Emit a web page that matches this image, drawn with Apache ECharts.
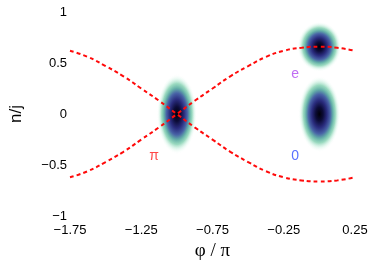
<!DOCTYPE html>
<html>
<head>
<meta charset="utf-8">
<script src="https://cdn.jsdelivr.net/npm/echarts@6/dist/echarts.min.js"></script>
<style>html,body{margin:0;padding:0;background:#fff}#c{width:374px;height:266px}</style>
</head>
<body>
<div id="c"></div>
<script>
// phase values (units of pi)
const phi = [-1.75, -1.625, -1.5, -1.375, -1.25, -1.125, -1.0, -0.875, -0.75, -0.625, -0.5, -0.375, -0.25, -0.125, 0.0, 0.125, 0.25];
// branch starting high on the left
const branchA = [0.62, 0.56, 0.47, 0.37, 0.25, 0.13, 0.0, -0.13, -0.25, -0.37, -0.47, -0.56, -0.62, -0.65, -0.66, -0.65, -0.62];
// branch starting low on the left
const branchB = [-0.62, -0.56, -0.47, -0.37, -0.25, -0.13, 0.0, 0.13, 0.25, 0.37, 0.47, 0.56, 0.62, 0.65, 0.66, 0.65, 0.62];
// density blob centres [phi, n/j]
const blobs = [[-1.0, 0.0], [0.0, 0.66], [0.0, 0.0]];
// annotation labels [phi, n/j, text]
const notes = [[-1.16, -0.41, 'π'], [-0.17, 0.39, 'e'], [-0.17, -0.41, '0']];
const xTicks = [-1.75, -1.25, -0.75, -0.25, 0.25];
const yTicks = [-1, -0.5, 0, 0.5, 1];

// styling (pixel radii of blobs)
const blobRadius = [[20, 40], [22, 25], [21, 38]];
const noteColors = ['#ff1a1a', '#b048f0', '#2f4cff'];

const chart = echarts.init(document.getElementById('c'), null, {renderer: 'canvas'});
const lab = {fontFamily: 'Liberation Sans, Arial, sans-serif', fontSize: 13, color: '#000'};
const grad = {
  type: 'radial', x: 0.5, y: 0.5, r: 0.5,
  colorStops: [
    {offset: 0, color: '#000008'},
    {offset: 0.18, color: '#0c0c38'},
    {offset: 0.36, color: '#2a2c7e'},
    {offset: 0.52, color: '#4862a6'},
    {offset: 0.64, color: '#64aea8'},
    {offset: 0.76, color: 'rgba(120,205,170,0.75)'},
    {offset: 0.88, color: 'rgba(195,238,220,0.4)'},
    {offset: 1, color: 'rgba(255,255,255,0)'}
  ]
};
chart.setOption({
  animation: false,
  grid: {left: 65, right: 19, top: 12, bottom: 46},
  xAxis: {
    type: 'value', min: -1.75, max: 0.25, interval: 0.5,
    axisLine: {show: false}, axisTick: {show: false}, splitLine: {show: false},
    axisLabel: Object.assign({margin: 8, formatter: v => xTicks.includes(v) ? String(v).replace('-', '−') : ''}, lab),
    name: 'φ / π', nameLocation: 'middle', nameGap: 21,
    nameTextStyle: {fontFamily: 'Liberation Serif, Times New Roman, serif', fontSize: 19, color: '#000'}
  },
  yAxis: {
    type: 'value', min: -1, max: 1, interval: 0.5,
    axisLine: {show: false}, axisTick: {show: false}, splitLine: {show: false},
    axisLabel: Object.assign({margin: 3, formatter: v => yTicks.includes(v) ? String(v).replace('-', '−') : ''}, lab),
    name: 'n/j', nameLocation: 'middle', nameGap: 45,
    nameTextStyle: {fontFamily: 'Liberation Sans, Arial, sans-serif', fontSize: 17, color: '#000'}
  },
  series: [
    {
      type: 'custom', data: blobs, clip: false, z: 1,
      renderItem: (params, api) => {
        const p = api.coord([api.value(0), api.value(1)]);
        const r = blobRadius[params.dataIndex];
        return {
          type: 'circle', x: p[0], y: p[1], scaleY: r[1] / r[0],
          shape: {cx: 0, cy: 0, r: r[0]},
          style: {fill: grad}
        };
      }
    },
    {
      type: 'line', data: phi.map((x, i) => [x, branchA[i]]), smooth: true, symbol: 'none', z: 3,
      lineStyle: {color: '#ff0a0a', width: 2, type: [4, 3]}
    },
    {
      type: 'line', data: phi.map((x, i) => [x, branchB[i]]), smooth: true, symbol: 'none', z: 3,
      lineStyle: {color: '#ff0a0a', width: 2, type: [4, 3]}
    },
    {
      type: 'scatter', symbolSize: 0, z: 4,
      data: notes.map((n, i) => ({value: [n[0], n[1]], label: {color: noteColors[i]}})),
      label: {
        show: true, position: 'inside',
        formatter: p => notes[p.dataIndex][2],
        fontFamily: 'Liberation Sans, Arial, sans-serif', fontSize: 14
      }
    }
  ]
});
</script>
</body>
</html>
